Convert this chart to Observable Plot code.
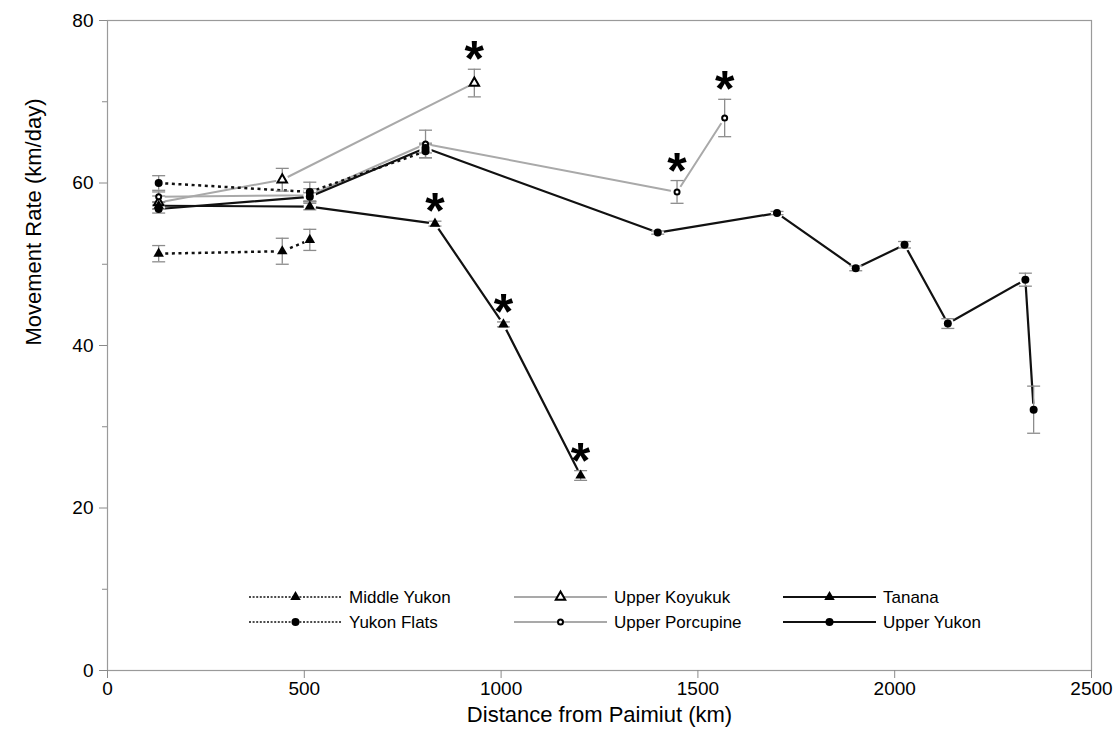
<!DOCTYPE html>
<html>
<head>
<meta charset="utf-8">
<script src="https://cdn.jsdelivr.net/npm/d3@7"></script>
<script src="https://cdn.jsdelivr.net/npm/@observablehq/plot@0.6"></script>
<style>
  body { margin: 0; background: #fff; }
  #chart { width: 1120px; height: 746px; }
  .sig-star { filter: grayscale(1); }
</style>
</head>
<body>
<div id="chart"></div>
<script>
// Mean movement rate (± SE) against distance upriver from Paimiut, by stock group.
const middleYukonKm   = [130, 444, 514];
const middleYukonRate = [51.3, 51.6, 53.0];
const middleYukonSE   = [1.0, 1.6, 1.3];

const yukonFlatsKm   = [130, 514, 808];
const yukonFlatsRate = [60.0, 58.9, 63.9];
const yukonFlatsSE   = [0.9, 1.2, 0.8];

const upperKoyukukKm   = [130, 444, 932];
const upperKoyukukRate = [57.6, 60.4, 72.3];
const upperKoyukukSE   = [0.8, 1.4, 1.7];

const upperPorcupineKm   = [130, 514, 808, 1447, 1568];
const upperPorcupineRate = [58.3, 58.5, 64.8, 58.9, 68.0];
const upperPorcupineSE   = [0.6, 0.8, 1.7, 1.4, 2.3];

const tananaKm   = [130, 514, 832, 1006, 1202];
const tananaRate = [57.2, 57.1, 55.0, 42.6, 24.0];
const tananaSE   = [0.4, 0.4, 0.3, 0.3, 0.6];

const upperYukonKm   = [130, 514, 808, 1398, 1701, 1901, 2025, 2135, 2332, 2353];
const upperYukonRate = [56.8, 58.3, 64.3, 53.9, 56.3, 49.5, 52.4, 42.7, 48.1, 32.1];
const upperYukonSE   = [0.5, 0.5, 0.6, 0.2, 0.2, 0.3, 0.4, 0.6, 0.8, 2.9];

// Locations flagged as significantly different (*)
const starredKoyukuk   = [932];
const starredPorcupine = [1447, 1568];
const starredTanana    = [832, 1006, 1202];

// Legend order: two rows of three
const legendOrder = ["Middle Yukon", "Upper Koyukuk", "Tanana", "Yukon Flats", "Upper Porcupine", "Upper Yukon"];

const xTicks = [0, 500, 1000, 1500, 2000, 2500];
const yTicks = [0, 20, 40, 60, 80];
const yMinorTicks = [10, 30, 50, 70];

const xTitle = "Distance from Paimiut (km)";
const yTitle = "Movement Rate (km/day)";

// ---- long-format table -------------------------------------------------
const rows = [];
function addSeries(series, km, rate, se, starred = []) {
  km.forEach((k, i) => rows.push({series, km: k, rate: rate[i], se: se[i], star: starred.includes(k)}));
}
addSeries("Middle Yukon", middleYukonKm, middleYukonRate, middleYukonSE);
addSeries("Yukon Flats", yukonFlatsKm, yukonFlatsRate, yukonFlatsSE);
addSeries("Upper Koyukuk", upperKoyukukKm, upperKoyukukRate, upperKoyukukSE, starredKoyukuk);
addSeries("Upper Porcupine", upperPorcupineKm, upperPorcupineRate, upperPorcupineSE, starredPorcupine);
addSeries("Tanana", tananaKm, tananaRate, tananaSE, starredTanana);
addSeries("Upper Yukon", upperYukonKm, upperYukonRate, upperYukonSE);

// ---- series styles -------------------------------------------------------
const BLACK = "#111", GREY = "#a9a9a9", ERR = "#8c8c8c";
const styles = {
  "Middle Yukon":    {stroke: BLACK, width: 2.5, dash: "3,3.6", symbol: "triangle", fill: "#000", mstroke: "none", r: 3.9},
  "Yukon Flats":     {stroke: BLACK, width: 2.5, dash: "3,3.6", symbol: "circle",   fill: "#000", mstroke: "none", r: 4},
  "Upper Koyukuk":   {stroke: GREY,  width: 2,   dash: null,    symbol: "triangle", fill: "#fff", mstroke: "#000", r: 3.5},
  "Upper Porcupine": {stroke: GREY,  width: 2,   dash: null,    symbol: "circle",   fill: "#fff", mstroke: "#000", r: 2.5},
  "Tanana":          {stroke: BLACK, width: 2.2, dash: null,    symbol: "triangle", fill: "#000", mstroke: "none", r: 3.9},
  "Upper Yukon":     {stroke: BLACK, width: 2.2, dash: null,    symbol: "circle",   fill: "#000", mstroke: "none", r: 4}
};
const seriesDrawOrder = ["Upper Koyukuk", "Upper Porcupine", "Middle Yukon", "Yukon Flats", "Tanana", "Upper Yukon"];
const of = name => rows.filter(d => d.series === name);

// Horizontal cap used at both ends of each error bar
const capSymbol = {
  draw(context, size) {
    const h = Math.sqrt(size / Math.PI);
    context.moveTo(-h, 0);
    context.lineTo(h, 0);
  }
};

const FONT = "'Liberation Sans', Arial, sans-serif";

const marks = [
  Plot.frame({stroke: "#9a9a9a", strokeWidth: 1.2}),
  // axes
  Plot.axisX({ticks: xTicks, tickSize: 8, tickPadding: 3, fontSize: 19, stroke: "#8a8a8a", label: null, tickFormat: d => String(d)}),
  Plot.axisY({ticks: yTicks, tickSize: 8, tickPadding: 6, fontSize: 19, stroke: "#8a8a8a", label: null, tickFormat: d => String(d)}),
  Plot.axisY({ticks: yMinorTicks, tickSize: 5, tickFormat: () => "", stroke: "#8a8a8a", label: null}),
  Plot.text([xTitle], {frameAnchor: "bottom", dy: 51, fontSize: 22, fill: "#000"}),
  Plot.text([yTitle], {frameAnchor: "left", dx: -74, rotate: -90, fontSize: 22, fill: "#000"}),
  // connecting lines
  ...seriesDrawOrder.map(name => Plot.line(of(name), {
    x: "km", y: "rate",
    stroke: styles[name].stroke,
    strokeWidth: styles[name].width,
    strokeDasharray: styles[name].dash ?? undefined,
    strokeLinecap: "butt"
  })),
  // white gap around each marker
  Plot.dot(rows, {x: "km", y: "rate", r: 6.2, fill: "#fff", stroke: "none"}),
  // error bars
  Plot.ruleX(rows, {x: "km", y1: d => d.rate - d.se, y2: d => d.rate + d.se, stroke: ERR, strokeWidth: 1.3}),
  Plot.dot(rows, {x: "km", y: d => d.rate + d.se, symbol: capSymbol, r: 6.5, stroke: ERR, strokeWidth: 1.3, fill: "none"}),
  Plot.dot(rows, {x: "km", y: d => d.rate - d.se, symbol: capSymbol, r: 6.5, stroke: ERR, strokeWidth: 1.3, fill: "none"}),
  // markers
  ...seriesDrawOrder.map(name => Plot.dot(of(name), {
    x: "km", y: "rate",
    symbol: styles[name].symbol,
    r: styles[name].r,
    fill: styles[name].fill,
    stroke: styles[name].mstroke,
    strokeWidth: 2
  })),
  // significance asterisks above the upper error bar
  Plot.text(rows.filter(d => d.star), {
    x: "km", y: d => d.rate + d.se, text: () => "*",
    fontSize: 50, fontWeight: "bold", lineAnchor: "bottom", dy: 7,
    fill: "#000", className: "sig-star"
  })
];

const chart = Plot.plot({
  width: 1120,
  height: 746,
  marginLeft: 107,
  marginRight: 29,
  marginTop: 20,
  marginBottom: 76,
  x: {domain: [0, 2500]},
  y: {domain: [0, 80]},
  style: {fontFamily: FONT, background: "#fff", color: "#000", overflow: "visible"},
  marks
});
document.getElementById("chart").append(chart);

// ---- in-plot legend -------------------------------------------------------
const svg = d3.select(chart);
const legendColX = [249, 514, 783];
const legendRowY = [597, 622];
const sampleLen = 93;
const lg = svg.append("g")
  .attr("font-family", FONT)
  .attr("font-size", 17)
  .attr("text-anchor", "start");
legendOrder.forEach((name, i) => {
  const s = styles[name];
  const x0 = legendColX[i % 3], y0 = legendRowY[Math.floor(i / 3)];
  const g = lg.append("g").attr("transform", `translate(${x0},${y0})`);
  g.append("line")
    .attr("x1", 0).attr("x2", sampleLen).attr("y1", 0).attr("y2", 0)
    .attr("stroke", s.stroke)
    .attr("stroke-width", s.dash ? 1.6 : s.width)
    .attr("stroke-dasharray", s.dash ? "2,1.6" : null);
  const size = Math.PI * s.r * s.r;
  const sym = s.symbol === "triangle" ? d3.symbolTriangle : d3.symbolCircle;
  g.append("path")
    .attr("transform", `translate(${sampleLen / 2},0)`)
    .attr("d", d3.symbol(sym, size)())
    .attr("fill", s.fill)
    .attr("stroke", s.mstroke === "none" ? null : s.mstroke)
    .attr("stroke-width", 2);
  g.append("text")
    .attr("x", sampleLen + 7).attr("y", 0).attr("dy", "0.35em")
    .attr("fill", "#000")
    .text(name);
});
</script>
</body>
</html>
